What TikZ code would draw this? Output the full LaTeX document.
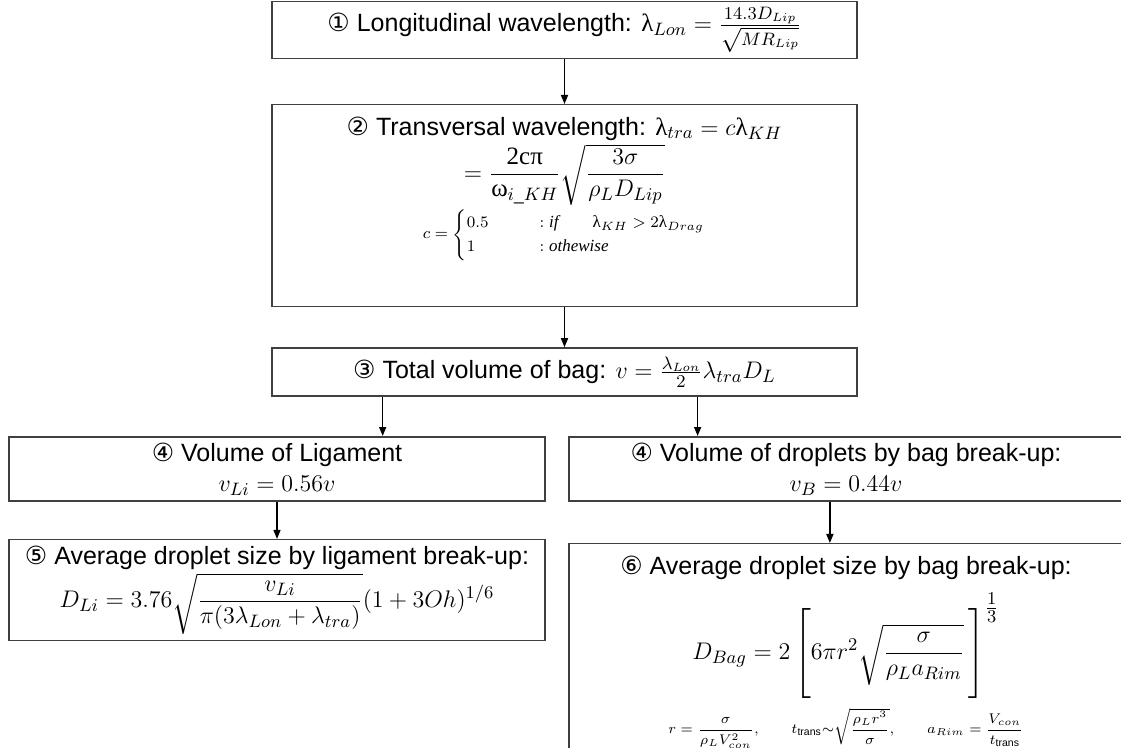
\documentclass[tikz,border=0pt]{standalone}
\usepackage{amsmath,amssymb}
\usepackage{fontspec}
\setmainfont{Liberation Sans}
\newfontfamily\circfont{DejaVu Sans}
\newfontfamily\serifup{Liberation Serif}
\usetikzlibrary{arrows.meta,calc}

% circled step numbers and upright serif letters inside formulas
\newcommand\circnum[1]{{\circfont #1}}
\newcommand\up[1]{\text{\serifup #1}}
\newcommand\itword[1]{\text{\serifup\itshape #1}}

\begin{document}
\begin{tikzpicture}[x=0.5pt,y=-0.5pt,
  box/.style={draw=black!75,line width=0.75pt,inner xsep=0pt,inner ysep=3pt,
    align=flush center,font=\fontsize{12.5}{15}\selectfont},
  flow/.style={-{Triangle[length=4.5pt,width=3.5pt]},line width=0.75pt}]
  \useasboundingbox (0,0) rectangle (1121,748);
  \clip (0,0) rectangle (1121,748);

  % top column
  \node[box,text width=292.5pt,minimum height=27pt] (lon) at (564.5,30)
    {\circnum{①} Longitudinal wavelength: $\up{λ}_{Lon}=\frac{14.3D_{Lip}}{\sqrt{MR_{Lip}}}$};
  \node[box,text width=292.5pt,anchor=north,inner ysep=6pt] (tra) at (564.5,104)
    {\circnum{②} Transversal wavelength: $\up{λ}_{tra}=c\up{λ}_{KH}$\\[1pt]
     $=\dfrac{\up{2cπ}}{\up{ω}_{i\_KH}}\sqrt{\dfrac{3\sigma}{\rho_L D_{Lip}}}$\\[1pt]
     {\fontsize{8.5}{10}\selectfont
      $c=\begin{cases}0.5\qquad & :\itword{if}\qquad \up{λ}_{KH}>2\up{λ}_{Drag}\\
      1 & :\itword{othewise}\end{cases}$}\\
     \rule{0pt}{16pt}};
  \node[box,text width=292.5pt,minimum height=24pt] (vol) at (564.5,372)
    {\circnum{③} Total volume of bag: $v=\frac{\lambda_{Lon}}{2}\lambda_{tra}D_L$};

  % ligament branch
  \node[box,text width=268pt,minimum height=32pt] (lig) at (277,469)
    {\circnum{④} Volume of Ligament\\ $v_{Li}=0.56v$};
  \node[box,text width=268pt,minimum height=47pt] (dli) at (277,590)
    {\circnum{⑤} Average droplet size by ligament break-up:\\[1pt]
     $D_{Li}=3.76\sqrt{\dfrac{v_{Li}}{\pi(3\lambda_{Lon}+\lambda_{tra})}}(1+3Oh)^{1/6}$};

  % bag branch
  \node[box,text width=277pt,minimum height=32pt] (drop) at (846,469)
    {\circnum{④} Volume of droplets by bag break-up:\\ $v_B=0.44v$};
  \node[box,text width=277pt,anchor=north,inner ysep=6pt] (bag) at (846,543)
    {\circnum{⑥} Average droplet size by bag break-up:\\[6pt]
     $D_{Bag}=2\left[\rule[-19pt]{0pt}{44pt}6\pi r^2\sqrt{\dfrac{\sigma}{\rho_L a_{Rim}}}\,\right]^{\textstyle\frac{1}{3}}$\\[4pt]
     {\fontsize{7.5}{9}\selectfont
      $r=\dfrac{\sigma}{\rho_L V_{con}^2},\qquad t_{\text{trans}}{\sim}\sqrt{\dfrac{\rho_L r^3}{\sigma}},
      \qquad a_{Rim}=\dfrac{V_{con}}{t_{\text{trans}}}$}\\
     \rule{0pt}{12pt}};

  % connectors
  \coordinate (v1) at ($(vol.south west)!0.19!(vol.south east)$);
  \coordinate (v2) at ($(vol.south west)!0.727!(vol.south east)$);
  \coordinate (d1) at ($(drop.south west)!0.471!(drop.south east)$);
  \draw[flow] (lon) -- (tra);
  \draw[flow] (tra) -- (vol);
  \draw[flow] (v1) -- (v1 |- lig.north);
  \draw[flow] (v2) -- (v2 |- drop.north);
  \draw[flow] (lig) -- (dli);
  \draw[flow] (d1) -- (d1 |- bag.north);
\end{tikzpicture}
\end{document}
